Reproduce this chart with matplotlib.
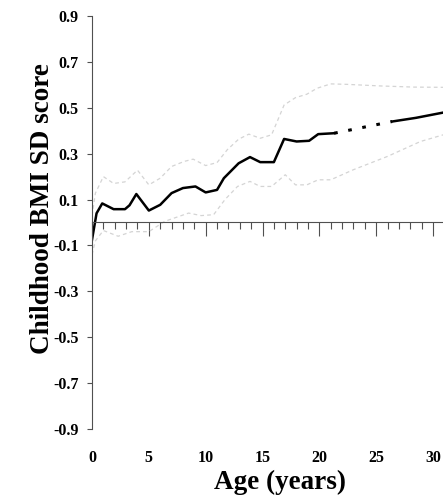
import numpy as np
import matplotlib
matplotlib.use("Agg")
import matplotlib.pyplot as plt

plt.rcParams['font.family'] = 'Liberation Serif'
plt.rcParams['font.weight'] = 'bold'
plt.rcParams['axes.unicode_minus'] = False

# mean childhood BMI SD score by age
age = [0, 0.4, 0.9, 1.9, 2.9, 3.3, 3.9, 5.0, 6.0, 7.0, 8.0, 9.1, 10.0, 11.0,
       11.6, 12.9, 13.9, 14.8, 16.0, 16.9, 18.0, 19.1, 19.9, 21.3]
bmi = [-0.075, 0.04, 0.083, 0.058, 0.058, 0.075, 0.124, 0.052, 0.077, 0.128,
       0.15, 0.157, 0.131, 0.142, 0.193, 0.258, 0.285, 0.263, 0.263, 0.364,
       0.353, 0.356, 0.385, 0.389]

# projected part (dotted) and adult part
proj_age = [21.3, 26.4]
proj_bmi = [0.389, 0.44]
adult_age = [26.4, 28.5, 30.9]
adult_bmi = [0.44, 0.456, 0.479]

# confidence limits
upper_age = [0, 0.3, 1.0, 1.9, 2.9, 4.0, 5.0, 6.0, 7.0, 8.1, 8.9, 10.0, 11.0,
             11.9, 12.9, 13.8, 14.8, 15.8, 16.9, 17.9, 18.9, 19.8, 21.0, 22.4,
             25.4, 28.3, 30.9]
upper = [0.03, 0.128, 0.2, 0.17, 0.177, 0.228, 0.164, 0.193, 0.244, 0.266,
         0.276, 0.248, 0.261, 0.317, 0.363, 0.385, 0.367, 0.382, 0.512, 0.544,
         0.559, 0.585, 0.604, 0.602, 0.595, 0.59, 0.589]
lower_age = [0, 0.3, 1.0, 2.3, 3.5, 5.0, 6.4, 8.5, 9.6, 10.7, 11.7, 12.8,
             13.9, 14.8, 15.8, 17.0, 17.9, 18.9, 19.9, 21.0, 23.0, 26.0, 28.9,
             30.9]
lower = [-0.14, -0.08, -0.035, -0.06, -0.04, -0.04, 0.005, 0.041, 0.03, 0.034,
         0.1, 0.157, 0.179, 0.157, 0.157, 0.208, 0.164, 0.164, 0.186, 0.186,
         0.23, 0.288, 0.353, 0.382]

yticks = [0.9, 0.7, 0.5, 0.3, 0.1, -0.1, -0.3, -0.5, -0.7, -0.9]
xticks = [0, 5, 10, 15, 20, 25, 30]

fig = plt.figure(figsize=(4.43, 4.99), dpi=100)
ax = fig.add_axes([0.2077, 0.1403, 0.7923, 0.8277])

ci_style = dict(color='#d4d4d4', lw=0.9, ls=(0, (3, 2.5)))
ax.plot(upper_age, upper, **ci_style)
ax.plot(lower_age, lower, **ci_style)
ax.plot(age, bmi, color='black', lw=1.8)
ax.plot(proj_age, proj_bmi, color='black', lw=2.2, ls=(0, (1.2, 3.5)))
ax.plot(adult_age, adult_bmi, color='black', lw=1.8)

ax.set_xlim(0, 30.88)
ax.set_ylim(-0.9, 0.9)

for s in ['top', 'right']:
    ax.spines[s].set_visible(False)
ax.spines['bottom'].set_position(('data', 0))
ax.spines['bottom'].set_color('#505050')
ax.spines['left'].set_color('#505050')

ax.set_yticks(yticks)
ax.set_yticklabels([f"{v:.1f}" for v in yticks])
ax.tick_params(axis='y', direction='out', length=3.5, width=0.8,
               color='#505050', labelsize=11.5, pad=6)

ax.set_xticks(xticks)
ax.set_xticks(np.arange(0, 31, 1), minor=True)
ax.tick_params(axis='x', which='major', direction='out', length=10, width=0.8,
               color='#505050', labelbottom=False)
ax.tick_params(axis='x', which='minor', direction='out', length=5, width=0.8,
               color='#505050')

sec = ax.secondary_xaxis('bottom')
sec.spines['bottom'].set_visible(False)
sec.set_xticks(xticks)
sec.set_xticklabels([str(v) for v in xticks])
sec.tick_params(length=0, labelsize=11.5, pad=15)

fig.text(0.095, 0.583, "Childhood BMI SD score", rotation=90, fontsize=19.5,
         fontweight='bold', ha='center', va='center')
fig.text(0.632, 0.034, "Age (years)", fontsize=19.5, fontweight='bold',
         ha='center', va='center')

fig.savefig("out.png", dpi=100)
